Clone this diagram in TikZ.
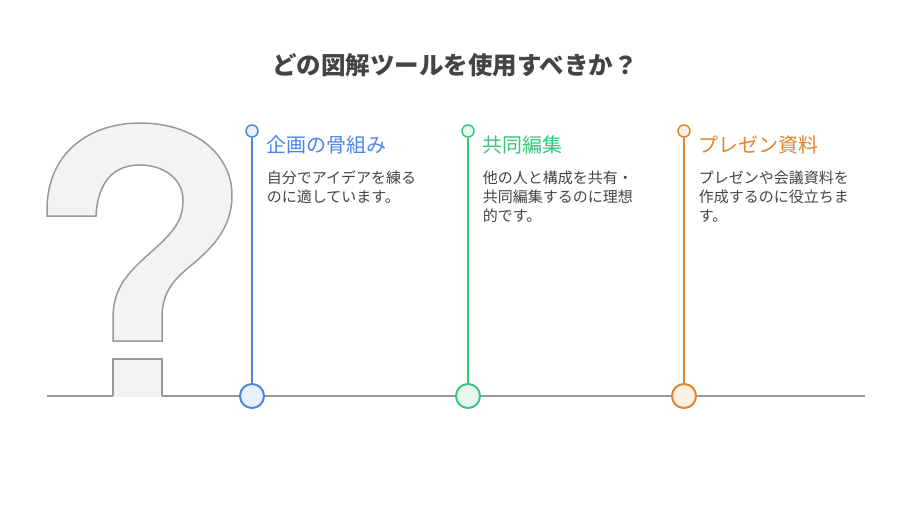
\documentclass[tikz,border=0pt]{standalone}
\usepackage{fontspec}
\setmainfont{Noto Sans CJK JP}
\usepackage{tikz}
\usetikzlibrary{positioning}
\definecolor{planblue}{HTML}{4A86E8}
\definecolor{sharegreen}{HTML}{3CC47E}
\definecolor{slideorange}{HTML}{E5832C}
\definecolor{textgray}{HTML}{444444}
\definecolor{railgray}{HTML}{999999}
\definecolor{markfill}{HTML}{F3F3F3}

\begin{document}
\begin{tikzpicture}[x=1pt, y=-1pt, line width=1.5pt,
    topdot/.style={circle, draw=#1, fill=#1!12, line width=1.5pt, minimum size=12pt, inner sep=0pt},
    basedot/.style={circle, draw=#1, fill=#1!12, line width=2pt, minimum size=24pt, inner sep=0pt},
    heading/.style={anchor=west, inner sep=0pt, text=#1, font=\fontsize{20}{24}\selectfont},
    body/.style={anchor=north west, align=left, inner sep=0pt, text=textgray, font=\fontsize{15}{19}\selectfont}]
        \useasboundingbox (0,0) rectangle (912,516);

        % Title
        \node[text=textgray, font=\fontsize{24.5}{28}\selectfont\bfseries] (title) at (455,65) {どの図解ツールを使用すべきか？};

        % Rail
        \coordinate (railL) at (47,396);
        \coordinate (railR) at (865,396);
        \draw[railgray, line width=1.5pt] (railL) -- (railR);

        % Question mark
        \draw[railgray, fill=markfill, line width=1.5pt]
            (47,216) -- (47,208) .. controls (48,152) and (90,123) .. (140,123)
            .. controls (195,123) and (232,155) .. (232,195)
            .. controls (232,230) and (210,250) .. (188,268)
            .. controls (170,283) and (162,296) .. (162,318) -- (162,341) -- (113,341) -- (113,318)
            .. controls (113,290) and (125,275) .. (150,253)
            .. controls (175,231) and (183,220) .. (183,200)
            .. controls (183,180) and (165,165) .. (140,165)
            .. controls (115,165) and (98,180) .. (96,216) -- cycle;
        \fill[markfill] (113,359) rectangle (162,396.5);
        \draw[railgray, line width=1.5pt] (113,396) -- (113,359) -- (162,359) -- (162,396);

        % Columns
        \node[basedot=planblue] (dot1) at (252,396) {};
        \node[basedot=sharegreen] (dot2) at (468,396) {};
        \node[basedot=slideorange] (dot3) at (684,396) {};
        \node[topdot=planblue] (top1) at (252,131) {};
        \node[topdot=sharegreen] (top2) at (468,131) {};
        \node[topdot=slideorange] (top3) at (684,131) {};
        \draw[planblue, line width=2pt] (top1) -- (dot1);
        \draw[sharegreen, line width=2pt] (top2) -- (dot2);
        \draw[slideorange, line width=2pt] (top3) -- (dot3);

        % Texts
        \node[heading=planblue] (head1) at (266,145) {企画の骨組み};
        \node[heading=sharegreen] (head2) at (482,145) {共同編集};
        \node[heading=slideorange] (head3) at (698,145) {プレゼン資料};
        \node[body] (text1) at (266,170) {自分でアイデアを練る\\のに適しています。};
        \node[body] (text2) at (482,170) {他の人と構成を共有・\\共同編集するのに理想\\的です。};
        \node[body] (text3) at (698,170) {プレゼンや会議資料を\\作成するのに役立ちま\\す。};
    \end{tikzpicture}
\end{document}
